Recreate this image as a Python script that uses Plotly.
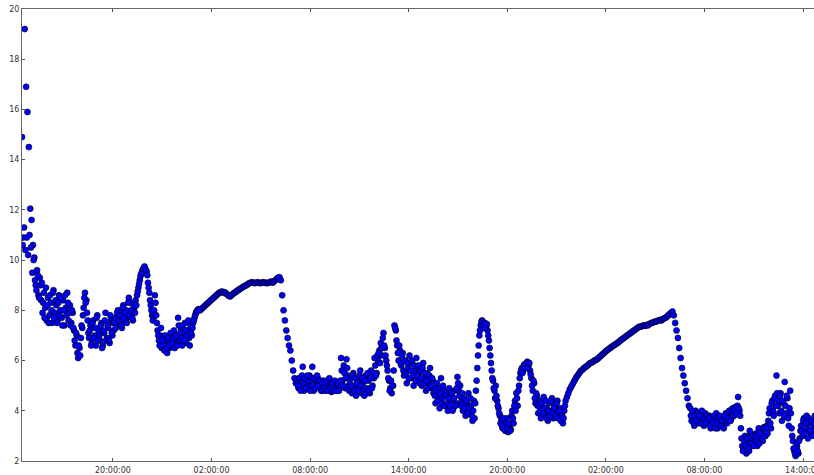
import datetime as dt
import plotly.graph_objects as go

# Readings every 5 minutes, starting at the left edge of the chart
start_time = dt.datetime(2013, 1, 1, 14, 28)
step_minutes = 5

# Day 1 afternoon: initial spike and noisy decline
vals_spike = [14.9, 10.9, 19.2, 16.9, 15.9, 14.5, 12.05, 11.6, 10.6, 10.1, 9.0, 9.6, 8.6, 9.3]
vals_day1_pm = [8.4, 7.9, 8.7, 8.1, 7.6, 8.5, 7.8, 8.3, 7.5, 8.8, 7.9, 8.2, 7.6, 8.6, 8.0, 7.7,
                8.4, 7.4, 8.1, 8.7, 7.6, 8.2, 7.5, 7.9,
                7.2, 6.6, 7.0, 6.1, 6.5, 6.9,
                7.3, 8.1, 8.7, 8.4, 7.6,
                6.9, 7.4, 6.7, 7.6, 7.0, 6.6, 7.8, 7.2, 6.8, 7.5, 6.6, 7.1, 7.9, 6.9, 7.3, 6.7, 7.6, 7.0,
                7.2, 7.7, 7.4, 8.0, 7.5, 7.9, 7.3, 8.2, 7.6, 8.0, 7.7, 8.5, 7.9, 8.3, 7.6, 8.1, 8.4]
# Day 1 evening peak and night
vals_day1_night = [8.6, 8.9, 9.2, 9.45, 9.6, 9.7, 9.65, 9.55,
                   9.1, 8.7, 8.2, 7.8, 7.7, 8.6, 7.8,
                   7.2, 6.8, 7.0, 6.5, 6.9, 6.4, 6.7, 6.3, 6.8, 6.5, 7.0, 6.6, 7.2, 6.7, 6.9,
                   7.7, 6.8, 7.3, 6.6, 7.1, 7.5, 6.7, 7.2, 6.9, 7.4, 7.0,
                   7.5, 7.7, 7.9, 8.0, 8.05]
# Day 2 early morning smooth rise and sharp drop
vals_day2_am = [8.0, 8.05, 8.1, 8.15, 8.2, 8.25, 8.3, 8.35, 8.4, 8.45, 8.5, 8.55, 8.6, 8.65, 8.7,
                8.72, 8.75, 8.7, 8.72, 8.68, 8.62, 8.58, 8.55, 8.6, 8.65, 8.7, 8.72, 8.78, 8.8,
                8.85, 8.88, 8.92, 8.95, 8.98, 9.0, 9.05, 9.08, 9.1,
                9.12, 9.1, 9.08, 9.1, 9.12, 9.1, 9.08, 9.1, 9.12, 9.1, 9.1, 9.08, 9.1, 9.12, 9.15, 9.1,
                9.15, 9.2, 9.25, 9.3, 9.32,
                9.2, 8.6, 8.0, 7.6, 7.2, 6.9, 6.6, 6.4, 6.0, 5.6, 5.3, 5.1]
# Day 2 daytime
vals_day2_day = [5.2, 4.9, 5.3, 5.0, 5.75, 4.8, 5.2, 5.1, 4.9, 5.4, 5.0, 5.75, 4.8, 5.2, 5.0, 5.3,
                 4.9, 5.1, 4.8, 5.2, 5.0, 4.85, 5.1, 4.9, 5.2, 4.75, 5.0, 4.9, 5.1, 4.8, 5.0, 4.9,
                 6.1, 5.2, 5.8, 4.9, 6.05, 5.4,
                 4.8, 5.3, 4.7, 5.5, 5.0, 4.6, 5.2, 4.9, 5.6, 4.7, 5.1, 4.6, 5.4, 4.9, 5.2, 4.7,
                 5.6, 5.0, 5.3, 5.8, 5.5,
                 6.0, 6.4, 6.7, 6.2, 7.1, 6.5, 6.0, 5.6, 5.2, 4.9, 4.7, 5.0,
                 7.4, 7.2, 6.6, 6.0, 6.4,
                 5.8, 6.3, 5.4, 6.0, 5.1, 5.7, 6.2, 5.3, 5.9, 5.0, 5.6, 6.1, 5.2, 5.5,
                 5.6, 5.0, 5.9, 5.3, 4.8, 5.5, 5.1, 5.7, 4.9, 5.2,
                 4.9, 4.3, 5.1, 4.6, 4.1, 5.3, 4.5, 4.8, 4.2, 4.7, 4.0, 4.9, 4.4, 4.6, 4.1, 4.8, 4.3,
                 5.35, 4.8, 5.0, 4.4,
                 4.0, 4.5, 3.8, 4.3, 4.7, 3.9, 4.2, 3.6, 4.4]
# Day 2 evening
vals_day2_eve = [4.3, 5.2, 6.2, 7.0,
                 7.4, 7.6, 7.3, 7.5, 7.35, 7.2,
                 6.8, 6.2, 5.6, 5.2, 4.8, 5.0, 4.4, 4.1, 3.8,
                 3.6, 3.3, 3.5, 3.2, 3.7, 3.15, 3.4, 3.25,
                 4.0, 3.5, 4.4, 4.7, 4.2, 5.0,
                 5.5, 5.7, 5.6, 5.85, 5.75, 5.95, 5.8, 5.6,
                 5.3, 4.8, 5.1, 4.3, 4.6,
                 3.9, 4.4, 3.7, 4.2, 4.55, 3.8, 4.1, 3.6, 4.3, 4.0, 4.5, 3.7, 4.2, 3.9, 4.4, 3.8, 4.1,
                 3.6, 3.5, 4.0]
# Night to day 3 morning smooth rise and drop
vals_day3_am = [4.4, 4.55, 4.7, 4.85, 4.95, 5.05, 5.15, 5.25, 5.35, 5.42, 5.5,
                5.58, 5.62, 5.68, 5.72, 5.76, 5.8, 5.85, 5.9, 5.92, 5.95, 6.0, 6.02, 6.05, 6.1, 6.15,
                6.2, 6.25, 6.3, 6.35, 6.4, 6.44, 6.48, 6.52, 6.56, 6.6, 6.63, 6.67, 6.7, 6.75,
                6.8, 6.84, 6.88, 6.92, 6.96, 7.0, 7.04, 7.08, 7.12, 7.16, 7.2, 7.24, 7.28, 7.32, 7.35,
                7.35, 7.38, 7.4, 7.38, 7.42, 7.4, 7.45,
                7.48, 7.5, 7.52, 7.55, 7.55, 7.58, 7.6, 7.62, 7.6, 7.65, 7.68, 7.7, 7.75, 7.8, 7.85,
                7.9, 7.95,
                7.8, 7.5, 7.2,
                6.9, 6.5, 6.1, 5.7, 5.4, 5.1, 4.8, 4.5, 4.2]
# Day 3 morning to afternoon
vals_day3_day = [4.1, 3.6, 3.9, 3.4, 4.0, 3.7, 3.5, 3.9, 3.6, 3.8, 3.4, 3.9, 3.6,
                 3.5, 3.8, 3.3, 3.7, 3.4, 3.6, 3.9, 3.3, 3.5, 3.7, 3.4, 3.6,
                 3.6, 3.9, 3.5, 3.8, 4.0, 3.7, 4.1, 3.8, 4.15, 3.9, 4.55, 4.0,
                 3.3, 2.6,
                 2.5, 3.0, 2.3, 2.8, 2.4, 3.1, 2.6, 2.9,
                 2.7, 3.1, 2.6, 3.3, 2.9, 3.2, 2.8, 3.35, 3.0, 3.4,
                 3.6, 4.1, 3.3, 4.4, 3.8, 4.6, 5.4, 4.2, 3.9,
                 4.7, 3.6, 4.3, 5.15, 3.9, 4.5, 3.4, 4.8,
                 3.3, 2.8, 2.4, 2.2, 2.6, 2.3, 2.9,
                 3.4, 3.0, 3.7, 3.2, 3.8, 2.9, 3.5, 3.1, 3.6, 3.3, 3.8, 3.4]

# Interleaved readings (2.5 min after the main ones) in the noisy stretches
extra_a_start = dt.datetime(2013, 1, 1, 14, 30, 30)
extra_a = [10.6, 11.3, 10.4, 10.9, 10.2, 11.0, 10.5, 9.5, 10.0, 9.2, 8.8, 9.4, 8.5, 9.0,
           9.1, 8.3, 7.7, 8.9, 8.2, 7.5, 8.6, 8.0, 8.7, 7.7, 8.4, 7.5, 8.3, 7.8, 8.5, 7.4,
           8.0, 8.6, 7.8, 8.3, 7.9, 7.4, 8.0, 7.3,
           6.8, 7.1, 6.3, 6.6, 6.2, 7.4,
           7.8, 8.5, 8.3, 7.9, 7.1,
           7.2, 6.6, 7.5, 6.9, 7.3, 7.7, 6.8, 7.0, 7.4, 6.5, 7.2, 7.6, 6.8, 7.4, 6.8, 7.8, 7.1, 7.5,
           7.5, 7.3, 7.9, 7.6, 7.8, 7.4, 8.1, 7.7, 7.9, 7.5, 8.3, 7.8, 8.0, 7.7, 8.2, 7.9, 8.2,
           8.75, 9.05, 9.35, 9.5, 9.65, 9.75, 9.6, 9.4,
           8.9, 8.4, 8.0, 7.6, 8.0, 8.3, 7.5,
           7.0, 6.6, 7.3, 6.8, 6.6, 7.0, 6.5, 6.9, 6.6, 7.1, 6.7, 6.9, 6.5, 7.0, 6.6,
           7.4, 7.1, 6.9, 7.4, 6.8, 7.2, 7.0, 7.6, 6.6, 7.1, 7.3,
           7.6, 7.8, 7.95, 8.0, 8.0]
extra_b_start = dt.datetime(2013, 1, 2, 7, 15, 30)
extra_b = [5.0, 5.3, 4.8, 5.4, 5.1, 5.3, 4.9, 5.4, 5.2, 4.8, 5.3, 5.0, 5.3, 4.9, 5.4, 5.0,
           5.2, 4.8, 5.1, 4.9, 4.8, 5.2, 4.8, 5.3, 4.9, 5.1, 4.8, 5.2, 4.8, 5.1, 4.8, 5.2,
           5.6, 5.0, 5.5, 5.3, 5.7, 5.0,
           5.1, 5.0, 5.4, 4.8, 5.3, 5.1, 4.8, 5.4, 5.0, 5.3, 4.8, 5.2, 4.7, 5.5, 4.8, 5.3,
           4.9, 5.5, 6.1, 5.4, 6.2,
           6.3, 5.9, 6.5, 6.9, 6.6, 6.2, 5.8, 5.3, 4.8, 5.2, 5.0, 5.6,
           7.3, 6.8, 6.3, 6.6, 5.9,
           6.2, 5.6, 6.0, 5.5, 5.9, 5.3, 5.6, 6.0, 5.4, 5.8, 5.2, 5.4, 5.8, 5.1,
           5.3, 5.7, 5.1, 5.5, 5.2, 4.9, 5.4, 5.0, 5.3, 4.7,
           4.6, 4.8, 4.4, 4.9, 4.7, 4.3, 5.0, 4.2, 4.6, 4.3, 4.5, 4.2, 4.7, 4.0, 4.5, 4.2, 4.9,
           5.1, 4.6, 4.2, 4.7,
           4.3, 4.1, 4.4, 3.9, 4.1, 4.5, 3.8, 4.0, 3.7,
           4.8, 5.7, 6.6, 7.2,
           7.55, 7.4, 7.5, 7.3, 7.45, 7.0,
           6.5, 5.9, 5.3, 4.9, 4.5, 4.6, 4.2, 3.9, 3.5,
           3.4, 3.7, 3.25, 3.5, 3.3, 3.5, 3.2, 3.8,
           3.7, 4.2, 4.0, 4.5, 4.8, 5.3,
           5.6, 5.5, 5.8, 5.7, 5.9, 5.7, 5.9, 5.45,
           5.0, 5.2, 4.5, 4.7, 4.2,
           4.2, 4.0, 4.3, 3.9, 4.1, 4.4, 3.7, 4.0, 3.8, 4.4, 3.9, 4.1, 3.8, 4.3, 3.7, 4.0, 3.6,
           3.8, 3.7, 4.2]
extra_c_start = dt.datetime(2013, 1, 3, 7, 10, 30)
extra_c = [3.8, 4.0, 3.5, 3.8, 3.6, 3.9, 3.8, 3.5, 4.0, 3.5, 3.7, 3.5, 3.8,
           3.7, 3.4, 3.6, 3.5, 3.8, 3.3, 3.5, 3.7, 3.8, 3.4, 3.6, 3.3,
           3.8, 3.6, 3.7, 4.0, 3.6, 3.9, 3.8, 4.05, 3.9, 4.2, 4.1, 3.8,
           2.9, 2.4,
           2.8, 2.6, 2.9, 2.5, 3.2, 2.7, 3.0, 2.6,
           3.0, 2.8, 3.0, 2.7, 3.1, 2.9, 3.3, 3.0, 3.3, 3.1,
           3.9, 3.5, 4.3, 4.0, 4.5, 4.2, 4.7, 4.4, 4.6,
           4.0, 4.4, 3.8, 4.2, 4.6, 3.7, 4.1, 3.9,
           3.0, 2.5, 2.3, 2.7, 2.4, 2.8, 3.2,
           3.2, 3.6, 3.1, 3.5, 3.3, 3.7, 3.2, 3.6, 3.0, 3.5, 3.2, 3.6]

y_ticks = [2, 4, 6, 8, 10, 12, 14, 16, 18, 20]
x_range = ["2013-01-01 14:28:00", "2013-01-03 14:40:00"]
x_tick0 = "2013-01-01 20:00:00"


def times_from(t0, n):
    return [t0 + dt.timedelta(minutes=step_minutes * i) for i in range(n)]


main_vals = (vals_spike + vals_day1_pm + vals_day1_night + vals_day2_am +
             vals_day2_day + vals_day2_eve + vals_day3_am + vals_day3_day)
xs = (times_from(start_time, len(main_vals)) + times_from(extra_a_start, len(extra_a)) +
      times_from(extra_b_start, len(extra_b)) + times_from(extra_c_start, len(extra_c)))
ys = main_vals + extra_a + extra_b + extra_c

fig = go.Figure()
fig.add_trace(go.Scatter(
    x=xs, y=ys, mode="markers",
    marker=dict(size=6, color="rgb(0,0,255)", line=dict(color="black", width=0.6)),
    hoverinfo="skip", showlegend=False,
))

axis_font = dict(family="DejaVu Sans", size=8, color="#333333")
fig.update_layout(
    width=814, height=475,
    margin=dict(l=22, r=0, t=9, b=14, autoexpand=False),
    paper_bgcolor="white", plot_bgcolor="white",
    font=axis_font,
    xaxis=dict(
        type="date", range=x_range, automargin=False,
        tick0=x_tick0, dtick=6 * 3600 * 1000, tickformat="%H:%M:%S",
        ticks="inside", ticklen=3, tickcolor="#555555", ticklabelstandoff=1,
        ticklabeloverflow="allow",
        showline=True, linecolor="#666666", linewidth=1, mirror="ticks",
        showgrid=False, zeroline=False, tickfont=axis_font,
    ),
    yaxis=dict(
        range=[2, 20], tickvals=y_ticks, automargin=False,
        ticks="inside", ticklen=3, tickcolor="#555555",
        showline=True, linecolor="#666666", linewidth=1,
        showgrid=False, zeroline=False, tickfont=axis_font,
    ),
)

fig.write_html(
    "out.html",
    config={"displayModeBar": False},
    post_script="document.body.style.margin='0';document.body.style.overflow='hidden';",
)
